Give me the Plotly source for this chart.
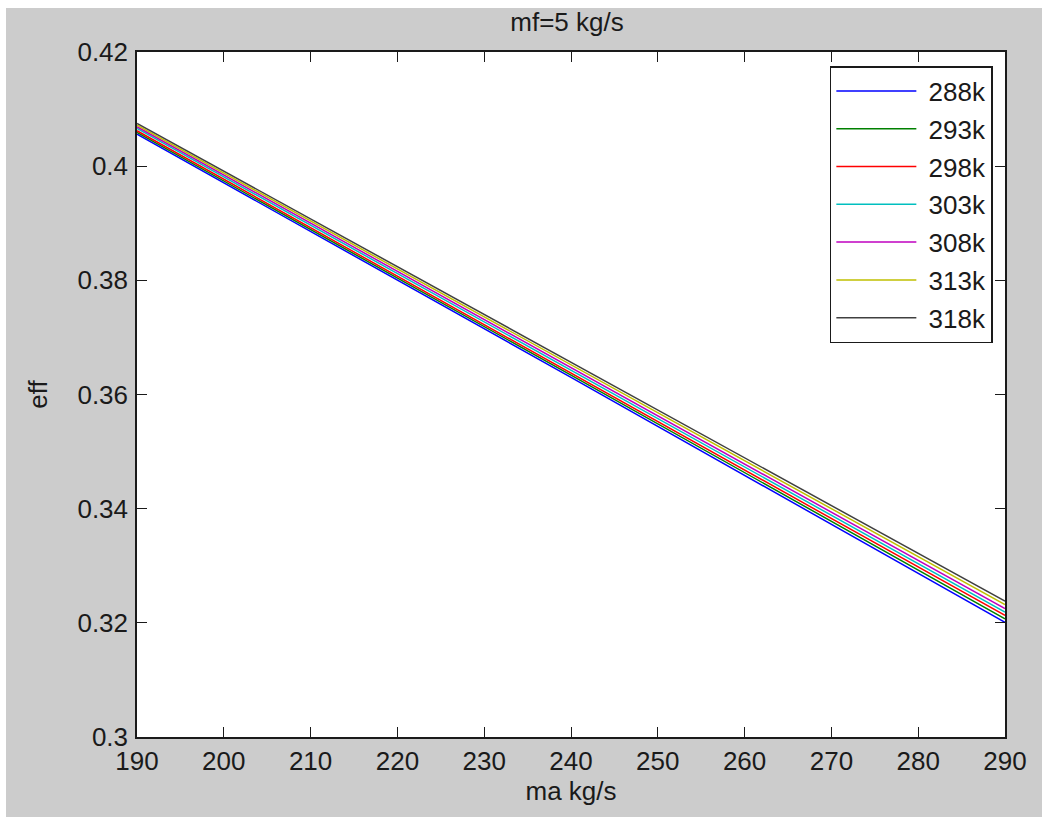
import plotly.graph_objects as go

# Data
ma = [190, 240, 290]
names = ["288k", "293k", "298k", "303k", "308k", "313k", "318k"]
eff_288 = [0.4056, 0.3630, 0.3201]
eff_293 = [0.4059, 0.3634, 0.3207]
eff_298 = [0.4062, 0.3638, 0.3213]
eff_303 = [0.4066, 0.3643, 0.3219]
eff_308 = [0.4069, 0.3647, 0.3225]
eff_313 = [0.4072, 0.3652, 0.3232]
eff_318 = [0.4075, 0.3657, 0.3238]
series = [eff_288, eff_293, eff_298, eff_303, eff_308, eff_313, eff_318]
colors = ["#0000ff", "#008000", "#ff0000", "#00bfbf", "#bf00bf", "#bfbf00", "#404040"]
xticks = [190, 200, 210, 220, 230, 240, 250, 260, 270, 280, 290]
yticks = [0.30, 0.32, 0.34, 0.36, 0.38, 0.40, 0.42]
ytick_labels = ["0.3", "0.32", "0.34", "0.36", "0.38", "0.4", "0.42"]

FONT = "Liberation Sans, Arial, sans-serif"
FS = 26
W, H = 1042, 817
ML, MR, MT, MB = 137, 37, 52, 80
PW, PH = W - ML - MR, H - MT - MB

fig = go.Figure()
for i, (name, vals, c) in enumerate(zip(names, series, colors)):
    fig.add_trace(go.Scatter(x=ma, y=vals, mode="lines", name="\u00a0" + name,
                             legendgroup="g%d" % i,
                             line=dict(color=c, width=1.5)))

axis_common = dict(showgrid=False, zeroline=False, showline=True, linecolor="#1a1a1a",
                   linewidth=1.5, mirror="ticks", ticks="inside", ticklen=10,
                   tickwidth=1.2, tickcolor="#1a1a1a",
                   tickfont=dict(family=FONT, size=FS, color="#1a1a1a"))

fig.update_layout(
    width=W, height=H,
    margin=dict(l=ML, r=MR, t=MT, b=MB, pad=0),
    paper_bgcolor="#cccccc", plot_bgcolor="#ffffff",
    title=dict(text="mf=5 kg/s", x=567 / W, xanchor="center", y=1 - 22 / H, yanchor="middle",
               font=dict(family=FONT, size=FS, color="#1a1a1a")),
    xaxis=dict(range=[190, 290], tickvals=xticks, ticklabelstandoff=0,
               title=dict(text="ma kg/s", standoff=4, font=dict(family=FONT, size=FS, color="#1a1a1a")),
               **axis_common),
    yaxis=dict(range=[0.3, 0.42], tickvals=yticks, ticktext=ytick_labels, ticklabelstandoff=2,
               title=dict(text="eff", standoff=22, font=dict(family=FONT, size=FS, color="#1a1a1a")),
               **axis_common),
    legend=dict(x=0.986, xanchor="right", y=1 - 14 / PH, yanchor="top",
                bgcolor="#ffffff", bordercolor="#1a1a1a", borderwidth=1.5,
                font=dict(family=FONT, size=FS, color="#1a1a1a"),
                itemwidth=80, tracegroupgap=1),
    showlegend=True,
    shapes=[
        dict(type="rect", xref="paper", yref="paper", layer="above",
             x0=-ML / PW, x1=(6 - ML) / PW, y0=-MB / PH, y1=1 + MT / PH,
             fillcolor="#ffffff", line=dict(width=0)),
        dict(type="rect", xref="paper", yref="paper", layer="above",
             x0=-ML / PW, x1=1 + MR / PW, y0=1 + (MT - 8) / PH, y1=1 + MT / PH,
             fillcolor="#ffffff", line=dict(width=0)),
    ],
)

fig.write_html("out.html")
